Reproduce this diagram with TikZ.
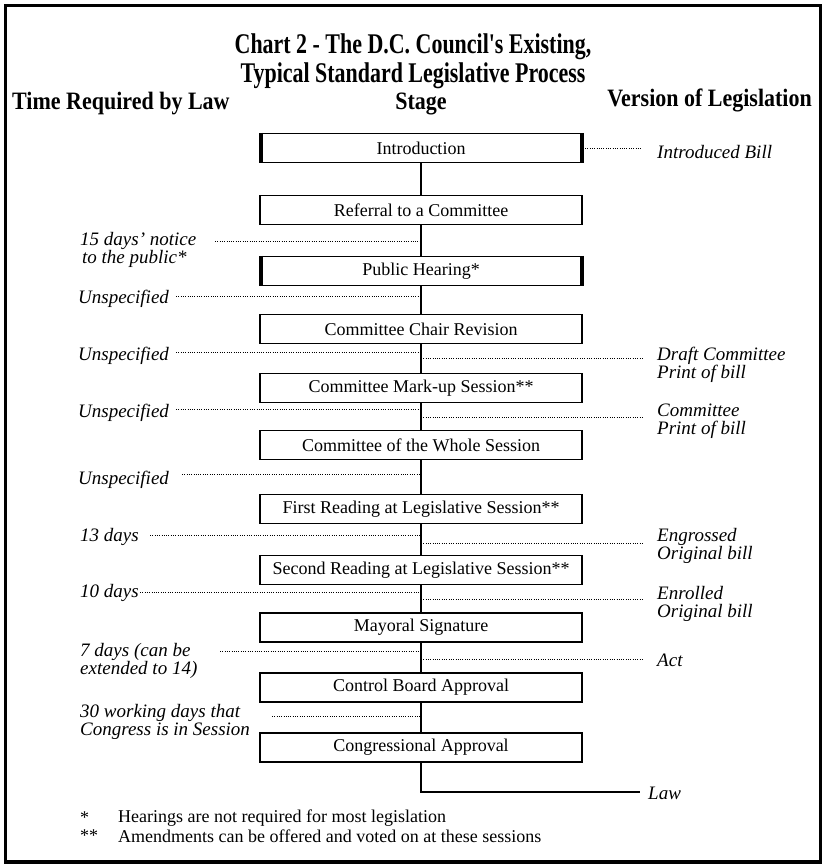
\documentclass[tikz,border=0pt]{standalone}
\usepackage{fontspec}
\setmainfont{Liberation Serif}
\newfontfamily\titlefont[FakeStretch=0.77]{Liberation Serif}
\newfontfamily\headfont[FakeStretch=0.88]{Liberation Serif}
\begin{document}
\begin{tikzpicture}[x=1pt,y=-1pt,
  stagebox/.style={draw, line width=1.5pt, minimum width=322pt, minimum height=29pt, inner sep=0pt, font=\fontsize{18}{20}\selectfont},
  heavybox/.style={stagebox, line width=2.6pt},
  leader/.style={line width=1pt, dash pattern=on 1pt off 1.3pt},
  stem/.style={line width=1.5pt},
  lab/.style={font=\fontsize{19}{18.5}\selectfont\itshape, align=left, inner sep=0pt, anchor=west},
  head/.style={font=\headfont\bfseries\fontsize{25}{26}\selectfont, inner sep=0pt},
  fn/.style={font=\fontsize{18}{18}\selectfont, inner sep=0pt, anchor=west}
]
\useasboundingbox (0,0) rectangle (825,867);
\draw[line width=3.2pt] (5.5,5.5) rectangle (820.5,862);

% title and headers
\node[font=\titlefont\bfseries\fontsize{28.5}{29}\selectfont, align=center] (title) at (413,61)
  {Chart 2 - The D.C. Council's Existing,\\Typical Standard Legislative Process};
\node[head, anchor=west] (h1) at (12,104) {Time Required by Law};
\node[head] (h2) at (421,104) {Stage};
\node[head, anchor=east] (h3) at (812,100) {Version of Legislation};

% stages
\node[stagebox] (intro) at (421,148) {Introduction};
\node[stagebox] (ref) at (421,210) {Referral to a Committee};
\node[stagebox] (hear) at (421,271) {Public Hearing*};
\node[stagebox] (chair) at (421,329) {Committee Chair Revision};
\node[stagebox] (mark) at (421,388) {Committee Mark-up Session**};
\node[stagebox] (whole) at (421,445) {Committee of the Whole Session};
\node[stagebox] (first) at (421,509) {First Reading at Legislative Session**};
\node[stagebox] (second) at (421,570) {Second Reading at Legislative Session**};
\node[heavybox] (mayor) at (421,627.5) {Mayoral Signature};
\node[heavybox] (control) at (421,687.5) {Control Board Approval};
\node[heavybox] (congress) at (421,747.5) {Congressional Approval};

% thick vertical sides
\foreach \n in {intro,hear}{
  \draw[line width=4.5pt] ([xshift=1.5pt]\n.north west) -- ([xshift=1.5pt]\n.south west);
  \draw[line width=4pt] ([xshift=-1.2pt]\n.north east) -- ([xshift=-1.2pt]\n.south east);
}

% stem
\draw[stem] (intro) -- (ref);
\draw[stem] (ref) -- (hear);
\draw[stem] (hear) -- (chair);
\draw[stem] (chair) -- (mark);
\draw[stem] (mark) -- (whole);
\draw[stem] (whole) -- (first);
\draw[stem] (first) -- (second);
\draw[stem] (second) -- (mayor);
\draw[stem] (mayor) -- (control);
\draw[stem] (control) -- (congress);
\node[lab] (law) at (648,793) {Law};
\coordinate (lawend) at (640,792);
\draw[stem] (congress.south) |- (lawend);

% left labels
\node[lab] (l1) at (80,250) {15 days' notice\\\hspace{2pt}to the public*};
\node[lab] (l2) at (78,299) {Unspecified};
\node[lab] (l3) at (78,356) {Unspecified};
\node[lab] (l4) at (78,413) {Unspecified};
\node[lab] (l5) at (78,480) {Unspecified};
\node[lab] (l6) at (80,537) {13 days};
\node[lab] (l7) at (80,593) {10 days};
\node[lab] (l8) at (80,661) {7 days (can be\\extended to 14)};
\node[lab] (l9) at (80,722) {30 working days that\\Congress is in Session};

\draw[leader] (215,241) -- (ref.south |- 215,241);
\draw[leader] (176,296) -- (hear.south |- 176,296);
\draw[leader] (176,352) -- (chair.south |- 176,352);
\draw[leader] (176,409) -- (mark.south |- 176,409);
\draw[leader] (182,474) -- (whole.south |- 182,474);
\draw[leader] (150,535) -- (first.south |- 150,535);
\draw[leader] (140,592) -- (second.south |- 140,592);
\draw[leader] (220,651) -- (mayor.south |- 220,651);
\draw[leader] (272,716) -- (control.south |- 272,716);

% right labels
\node[lab] (r0) at (657,152) {Introduced Bill};
\node[lab] (r1) at (657,365) {Draft Committee\\Print of bill};
\node[lab] (r2) at (657,421) {Committee\\Print of bill};
\node[lab] (r3) at (657,546) {Engrossed\\Original bill};
\node[lab] (r4) at (657,604) {Enrolled\\Original bill};
\node[lab] (r5) at (657,660) {Act};

\draw[leader] (intro.east) -- (642,148);
\draw[leader] (chair.south |- 0,358) -- (642,358);
\draw[leader] (mark.south |- 0,417) -- (642,417);
\draw[leader] (first.south |- 0,543) -- (642,543);
\draw[leader] (second.south |- 0,599) -- (642,599);
\draw[leader] (mayor.south |- 0,659) -- (642,659);

% footnotes
\node[fn] (f1s) at (80,818) {*};
\node[fn] (f1) at (118,818) {Hearings are not required for most legislation};
\node[fn] (f2s) at (80,836) {**};
\node[fn] (f2) at (118,836) {Amendments can be offered and voted on at these sessions};
\end{tikzpicture}
\end{document}
